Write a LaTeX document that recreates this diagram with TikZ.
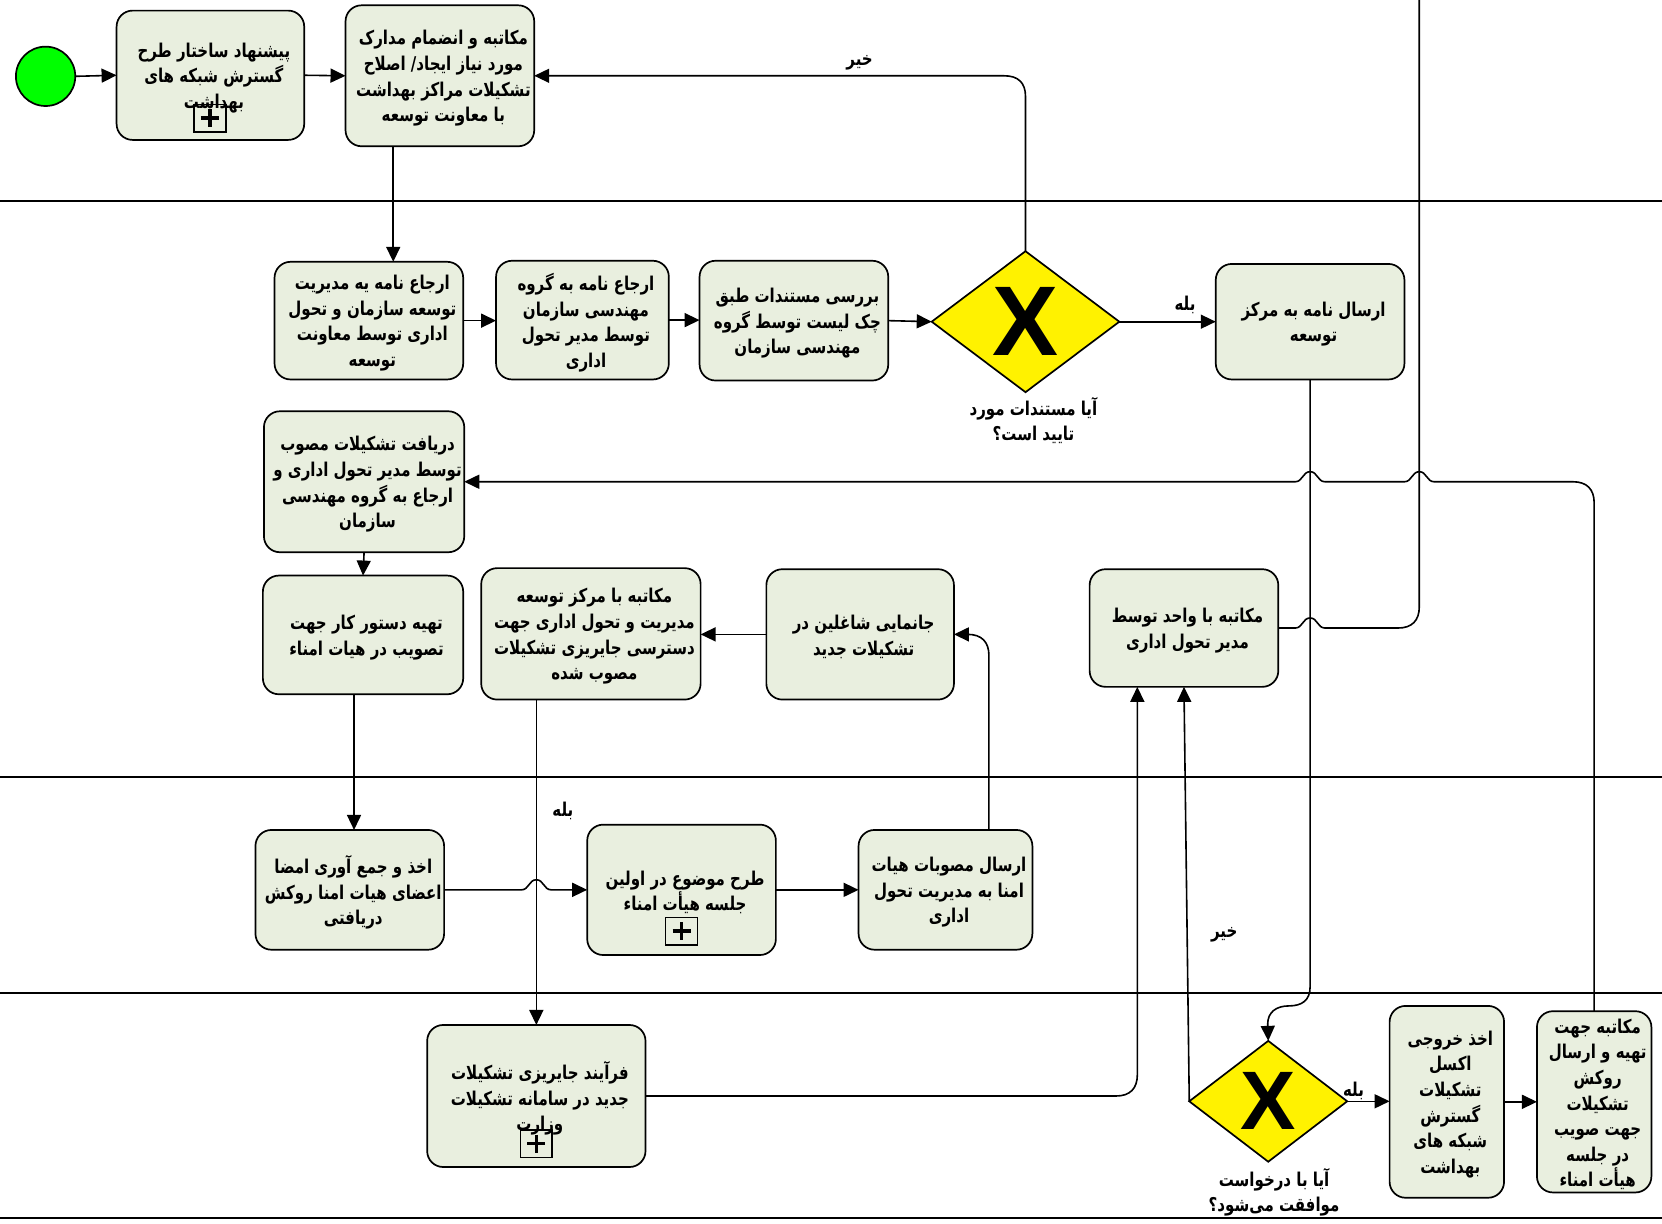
\documentclass[tikz,border=0pt]{standalone}
\usepackage{fontspec}
\usetikzlibrary{arrows.meta,shapes.geometric}
\TeXXeTstate=1
\newfontfamily\arabicfont[Script=Arabic,FakeStretch=0.79]{DejaVu Sans Bold}
\newfontfamily\xfont{Liberation Sans Bold}
\newlength{\faoffset}
\newcommand{\fa}[1]{\hspace*{\faoffset}\raisebox{-2.6pt}[\height][\depth]{\arabicfont\beginR #1\endR}}
\definecolor{taskfill}{HTML}{E9EFDF}
\tikzset{
  sized/.style 2 args={minimum width={#1*1.06pt},minimum height={#2*1.06pt}},
  basetext/.style={align=center,font=\fontsize{19}{25.6}\selectfont,inner sep=0pt,outer sep=0pt},
  taskbox/.style={basetext,draw=black,line width=1.7pt,fill=taskfill,rounded corners=16pt,execute at begin node={\setlength{\faoffset}{7pt}}},
  startev/.style={circle,draw=black,line width=1.7pt,fill=green,minimum size={56*1.06pt},inner sep=0pt,outer sep=0pt},
  gateway/.style={diamond,draw=black,line width=1.7pt,fill=yellow,inner sep=0pt,outer sep=0pt},
  flow/.style={draw=black,line width=1.6pt,-{Triangle[length=15pt,width=14pt]}},
  plainflow/.style={draw=black,line width=1.6pt},
  lane/.style={draw=black,line width=2pt},
  plusbox/.style={draw=black,line width=1.5pt,minimum width={30*1.06pt},minimum height={26*1.06pt},inner sep=0pt},
  plussign/.style={draw=black,line width=3.5pt},
  caption/.style={basetext,font=\fontsize{19}{24.8}\selectfont},
  edgelabel/.style={basetext,font=\fontsize{19}{22}\selectfont},
}
\begin{document}
\begin{tikzpicture}[x=1.06pt,y=-1.06pt]
\useasboundingbox (0,0) rectangle (1568,1154);
\fill[white] (0,0) rectangle (1568,1154);
% lanes
\coordinate (l1a) at (0,189.5); \coordinate (l1b) at (1568,189.5);
\coordinate (l2a) at (0,733); \coordinate (l2b) at (1568,733);
\coordinate (l3a) at (0,937); \coordinate (l3b) at (1568,937);
\coordinate (l4a) at (0,1149); \coordinate (l4b) at (1568,1149);
\draw[lane] (l1a) -- (l1b);
\draw[lane] (l2a) -- (l2b);
\draw[lane] (l3a) -- (l3b);
\draw[lane] (l4a) -- (l4b);
% events and tasks
\node[startev] (start) at (43,72) {};
\node[taskbox,sized={177}{122}] (A) at (198.5,71) {\fa{پیشنهاد ساختار طرح}\\\fa{گسترش شبکه های}\\\fa{بهداشت}};
\node[taskbox,sized={178}{133}] (B) at (415,71.5) {\fa{مکاتبه و انضمام مدارک}\\\fa{مورد نیاز ایجاد/ اصلاح}\\\fa{تشکیلات مراکز بهداشت}\\\fa{با معاونت توسعه}};
\node[taskbox,sized={178}{111}] (C) at (348,302.5) {\fa{ارجاع نامه یه مدیریت}\\\fa{توسعه سازمان و تحول}\\\fa{اداری توسط معاونت}\\\fa{توسعه}};
\node[taskbox,sized={163}{112}] (D) at (549.5,302) {\fa{ارجاع نامه به گروه}\\\fa{مهندسی سازمان}\\\fa{توسط مدیر تحول}\\\fa{اداری}};
\node[taskbox,sized={178}{113}] (E) at (749,302.5) {\fa{بررسی مستندات طبق}\\\fa{چک لیست توسط گروه}\\\fa{مهندسی سازمان}};
\node[gateway,sized={177}{133},font=\xfont\fontsize{99}{99}\selectfont] (G1) at (967.5,303.5) {X};
\node[taskbox,sized={178}{109}] (F) at (1236,303.5) {\fa{ارسال نامه به مرکز}\\\fa{توسعه}};
\node[taskbox,sized={189}{133}] (H) at (343.5,454.5) {\fa{دریافت تشکیلات مصوب}\\\fa{توسط مدیر تحول اداری و}\\\fa{ارجاع به گروه مهندسی}\\\fa{سازمان}};
\node[taskbox,sized={189}{112}] (I) at (342.5,599) {\fa{تهیه دستور کار جهت}\\\fa{تصویب در هیات امناء}};
\node[taskbox,sized={207}{124}] (J) at (557.5,598) {\fa{مکاتبه با مرکز توسعه}\\\fa{مدیریت و تحول اداری جهت}\\\fa{دسترسی جایریزی تشکیلات}\\\fa{مصوب شده}};
\node[taskbox,sized={177}{123}] (K) at (811.5,598.5) {\fa{جانمایی شاغلین در}\\\fa{تشکیلات جدید}};
\node[taskbox,sized={178}{111}] (L) at (1117,592.5) {\fa{مکاتبه با واحد توسط}\\\fa{مدیر تحول اداری}};
\node[taskbox,sized={178}{113}] (M) at (330,839.5) {\fa{اخذ و جمع آوری امضا}\\\fa{اعضای هیات امنا روکش}\\\fa{دریافتی}};
\node[taskbox,sized={178}{123}] (N) at (643,839.5) {\fa{طرح موضوع در اولین}\\\fa{جلسه هیأت امناء}};
\node[taskbox,sized={164}{113}] (O) at (892,839.5) {\fa{ارسال مصوبات هیات}\\\fa{امنا به مدیریت تحول}\\\fa{اداری}};
\node[taskbox,sized={206}{134}] (P) at (506,1034) {\fa{فرآیند جایریزی تشکیلات}\\\fa{جدید در سامانه تشکیلات}\\\fa{وزارت}};
\node[gateway,sized={149}{114},font=\xfont\fontsize{83}{83}\selectfont] (G2) at (1196.5,1039) {X};
\node[taskbox,sized={108}{181}] (Q) at (1365,1039.5) {\fa{اخذ خروجی}\\\fa{اکسل}\\\fa{تشکیلات}\\\fa{گسترش}\\\fa{شبکه های}\\\fa{بهداشت}};
\node[taskbox,sized={108}{171}] (R) at (1504,1039.5) {\fa{مکاتبه جهت}\\\fa{تهیه و ارسال}\\\fa{روکش}\\\fa{تشکیلات}\\\fa{جهت صویب}\\\fa{در جلسه}\\\fa{هیأت امناء}};
% expanded-subprocess markers
\node[plusbox] (pa) at (198,111.5) {};
\draw[plussign] (189.5,111.5) -- (206.5,111.5) (198,103) -- (198,120);
\node[plusbox] (pn) at (643,878.5) {};
\draw[plussign] (634.5,878.5) -- (651.5,878.5) (643,870) -- (643,887);
\node[plusbox] (pp) at (506,1079) {};
\draw[plussign] (497.5,1079) -- (514.5,1079) (506,1070.5) -- (506,1087.5);
% captions and labels
\node[caption] (cap1) at (975,394.5) {\fa{آیا مستندات مورد}\\\fa{تایید است؟}};
\node[caption] (cap2) at (1202,1122.5) {\fa{آیا با درخواست}\\\fa{موافقت می‌شود؟}};
\node[edgelabel] (no1) at (811,57) {\fa{خیر}};
\node[edgelabel] (yes1) at (1118,285) {\fa{بله}};
\node[edgelabel] (yes2) at (531,763) {\fa{بله}};
\node[edgelabel] (no2) at (1155,879) {\fa{خیر}};
\node[edgelabel] (yes3) at (1277,1027) {\fa{بله}};
% connectors
\coordinate (topexit) at (1339,0);
\draw[flow] (start.east) -- (A.west);
\draw[flow] (A.east) -- (B.west);
\draw[flow] (B.south -| 371,0) -- (371,0 |- C.north);
\draw[flow] (C.east) -- (C.east -| D.west);
\draw[flow] (D.east) -- (D.east -| E.west);
\draw[flow] (E.east) -- (G1.west);
\draw[flow] (G1.north) -- (967.5,91) .. controls (967.5,78) and (960.5,71.5) .. (947.5,71.5) -- (B.east);
\draw[flow] (G1.east) -- (F.west);
\draw[flow] (F.south) -- (1236,931) .. controls (1236,944) and (1228,949) .. (1216,949) .. controls (1204,949) and (1196,955) .. (1196,966) -- (G2.north);
\draw[plainflow] (L.east) -- (1222,592.5) .. controls (1229,592.5) and (1229,583) .. (1236,583) .. controls (1243,583) and (1243,592.5) .. (1250,592.5) -- (1319,592.5) .. controls (1332,592.5) and (1339,585.5) .. (1339,572.5) -- (topexit);
\draw[flow] (R.north) -- (1504,474.5) .. controls (1504,461.5) and (1497,454.5) .. (1484,454.5) -- (1353,454.5) .. controls (1346,454.5) and (1346,445) .. (1339,445) .. controls (1332,445) and (1332,454.5) .. (1325,454.5) -- (1250,454.5) .. controls (1243,454.5) and (1243,445) .. (1236,445) .. controls (1229,445) and (1229,454.5) .. (1222,454.5) -- (H.east);
\draw[flow] (H.south) -- (I.north);
\draw[flow] (334,0 |- I.south) -- (334,0 |- M.north);
\draw[flow] (506,0 |- J.south) -- (P.north);
\draw[flow] (M.east) -- (492,839.5) .. controls (499,839.5) and (499,830) .. (506,830) .. controls (513,830) and (513,839.5) .. (520,839.5) -- (N.west);
\draw[flow] (N.east) -- (O.west);
\draw[flow] (933,0 |- O.north) -- (933,618.5) .. controls (933,605.5) and (926,598.5) .. (913,598.5) -- (K.east);
\draw[flow] (K.west) -- (K.west -| J.east);
\draw[flow] (P.east) -- (1053,1034) .. controls (1066,1034) and (1073,1027) .. (1073,1014) -- (1073,0 |- L.south);
\draw[flow] (G2.west) -- (L.south);
\draw[flow] (G2.east) -- (G2.east -| Q.west);
\draw[flow] (Q.east) -- (Q.east -| R.west);
\end{tikzpicture}
\end{document}
